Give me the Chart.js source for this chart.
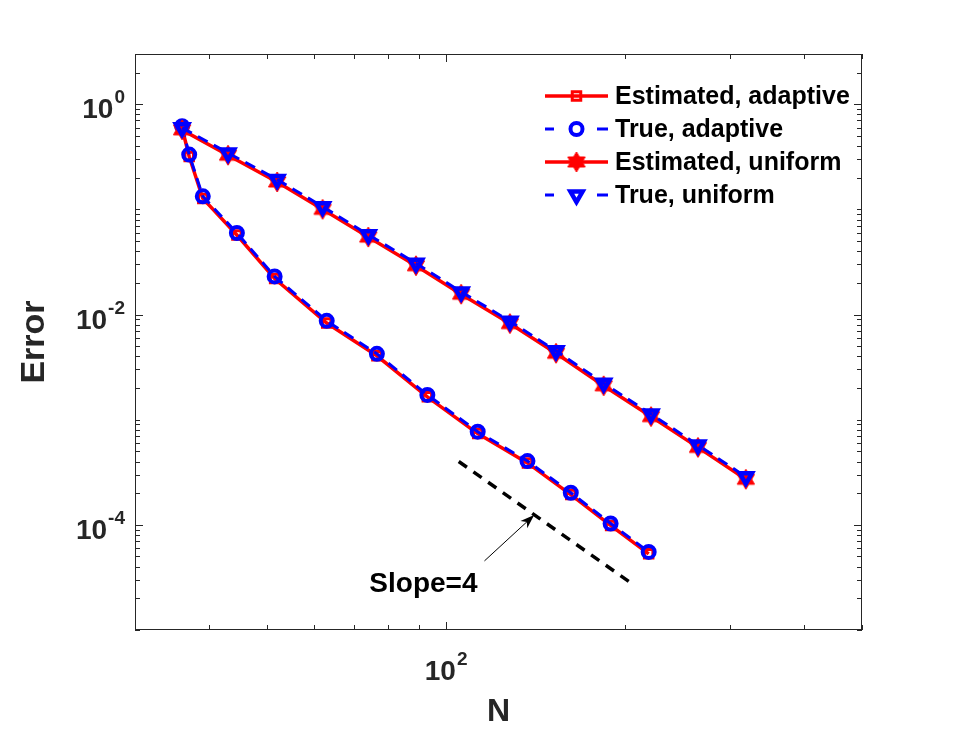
<!DOCTYPE html>
<html>
<head>
<meta charset="utf-8">
<script src="https://cdn.jsdelivr.net/npm/chart.js@4.4.1/dist/chart.umd.min.js"></script>
<style>
html, body { margin: 0; padding: 0; background: #fff; }
canvas { display: block; }
</style>
</head>
<body>
<canvas id="errorChart" width="954" height="742"></canvas>
<script>
// Data
const seriesLabels = ['Estimated, adaptive', 'True, adaptive', 'Estimated, uniform', 'True, uniform'];

const nAdaptive = [36, 37, 39, 44.5, 51.5, 63, 76.5, 93, 113, 137, 162, 189, 219];
const estAdaptive = [0.59, 0.318, 0.127, 0.057, 0.022, 0.0083, 0.00405, 0.00165, 0.000737, 0.000388, 0.000194, 0.0000988, 0.000053];
const trueAdaptive = [0.617, 0.332, 0.133, 0.0596, 0.023, 0.0087, 0.00423, 0.00172, 0.000769, 0.000404, 0.000202, 0.000103, 0.0000553];

const nUniform = [36, 43, 52, 62, 74, 89, 106, 128, 153, 184, 221, 265, 319];
const estUniform = [0.57, 0.327, 0.182, 0.1, 0.0545, 0.0291, 0.0156, 0.0082, 0.00428, 0.0021, 0.00107, 0.000545, 0.000271];
const trueUniform = [0.596, 0.344, 0.192, 0.106, 0.0574, 0.0307, 0.0164, 0.00865, 0.00451, 0.00222, 0.00113, 0.000574, 0.000286];

// reference slope line and the arrow pointing at it (tail, head)
const slopeN = [105, 205];
const slopeErr = [4e-4, 2.77e-5];
const arrowN = [116, 140.6];
const arrowErr = [4.54e-5, 1.237e-4];
const slopeText = 'Slope=4';
const slopeTextAt = [74.3, 2.75e-5];

// axis limits and labelled ticks
const xRange = [30, 500];
const yRange = [1e-5, 3];
const xTickValues = [100];
const xTickExps = ['2'];
const yTickValues = [1, 1e-2, 1e-4];
const yTickExps = ['0', '-2', '-4'];
const xTitle = 'N';
const yTitle = 'Error';

const axisColor = '#262626';
const fontFamily = '"Liberation Sans", Arial, Helvetica, sans-serif';

function toPoints(xs, ys) {
    return xs.map((x, i) => ({ x: x, y: ys[i] }));
}

// filled six-pointed star marker (MATLAB 'h')
function makeHexagram(r, color) {
    const c = document.createElement('canvas');
    const size = Math.ceil(r * 2 + 4);
    c.width = size;
    c.height = size;
    const g = c.getContext('2d');
    g.translate(size / 2, size / 2);
    g.beginPath();
    for (let i = 0; i < 12; i++) {
        const rad = i % 2 === 0 ? r : r * 0.58;
        const a = -Math.PI / 2 + i * Math.PI / 6;
        const px = Math.cos(a) * rad;
        const py = Math.sin(a) * rad;
        if (i === 0) g.moveTo(px, py); else g.lineTo(px, py);
    }
    g.closePath();
    g.fillStyle = color;
    g.fill();
    g.strokeStyle = color;
    g.lineWidth = 1;
    g.stroke();
    return c;
}

function logTicks(min, max) {
    const out = [];
    for (let k = Math.floor(Math.log10(min)); k <= Math.ceil(Math.log10(max)); k++) {
        for (let m = 1; m <= 9; m++) {
            const v = m * Math.pow(10, k);
            if (v >= min * 0.999 && v <= max * 1.001) out.push(v);
        }
    }
    return out;
}

function drawPowerLabel(ctx, base, exp, x, y, align) {
    ctx.font = 'bold 28px ' + fontFamily;
    const baseW = ctx.measureText(base).width;
    ctx.font = 'bold 19px ' + fontFamily;
    const expW = ctx.measureText(exp).width;
    let left = x;
    if (align === 'right') left = x - baseW - expW - 1;
    if (align === 'center') left = x - (baseW + expW + 1) / 2;
    ctx.textAlign = 'left';
    ctx.textBaseline = 'alphabetic';
    ctx.font = 'bold 28px ' + fontFamily;
    ctx.fillText(base, left, y + 14);
    ctx.font = 'bold 19px ' + fontFamily;
    ctx.fillText(exp, left + baseW + 1, y - 1);
}

const matlabAxes = {
    id: 'matlabAxes',
    afterDraw(chart) {
        const { ctx, chartArea: a } = chart;
        const xs = chart.scales.x;
        const ys = chart.scales.y;
        ctx.save();
        ctx.strokeStyle = axisColor;
        ctx.fillStyle = axisColor;
        ctx.lineWidth = 1;

        // box
        ctx.strokeRect(Math.round(a.left) + 0.5, Math.round(a.top) + 0.5,
            Math.round(a.right - a.left) - 1, Math.round(a.bottom - a.top) - 1);

        // inward ticks on all four sides
        ctx.beginPath();
        logTicks(xRange[0], xRange[1]).forEach(v => {
            const px = Math.round(xs.getPixelForValue(v)) + 0.5;
            const len = xTickValues.includes(v) ? 8 : 5;
            ctx.moveTo(px, a.bottom);
            ctx.lineTo(px, a.bottom - len);
            ctx.moveTo(px, a.top);
            ctx.lineTo(px, a.top + len);
        });
        logTicks(yRange[0], yRange[1]).forEach(v => {
            const py = Math.round(ys.getPixelForValue(v)) + 0.5;
            const len = yTickValues.some(t => Math.abs(t - v) / t < 1e-6) ? 8 : 5;
            ctx.moveTo(a.left, py);
            ctx.lineTo(a.left + len, py);
            ctx.moveTo(a.right, py);
            ctx.lineTo(a.right - len, py);
        });
        ctx.stroke();

        // tick labels
        yTickValues.forEach((v, i) => {
            drawPowerLabel(ctx, '10', yTickExps[i], a.left - 10, ys.getPixelForValue(v), 'right');
        });
        xTickValues.forEach((v, i) => {
            drawPowerLabel(ctx, '10', xTickExps[i], xs.getPixelForValue(v), a.bottom + 36, 'center');
        });

        // axis titles
        ctx.font = 'bold 32px ' + fontFamily;
        ctx.textAlign = 'center';
        ctx.textBaseline = 'middle';
        ctx.fillText(xTitle, (a.left + a.right) / 2, a.bottom + 82);
        ctx.font = 'bold 34px ' + fontFamily;
        ctx.save();
        ctx.translate(35, (a.top + a.bottom) / 2);
        ctx.rotate(-Math.PI / 2);
        ctx.fillText(yTitle, 0, 0);
        ctx.restore();

        // arrow + slope annotation
        const tx = xs.getPixelForValue(arrowN[0]), ty = ys.getPixelForValue(arrowErr[0]);
        const hx = xs.getPixelForValue(arrowN[1]), hy = ys.getPixelForValue(arrowErr[1]);
        const ang = Math.atan2(hy - ty, hx - tx);
        ctx.strokeStyle = '#000';
        ctx.fillStyle = '#000';
        ctx.lineWidth = 1;
        ctx.beginPath();
        ctx.moveTo(tx, ty);
        ctx.lineTo(hx - Math.cos(ang) * 8, hy - Math.sin(ang) * 8);
        ctx.stroke();
        ctx.beginPath();
        ctx.moveTo(hx, hy);
        ctx.lineTo(hx - Math.cos(ang) * 14 - Math.sin(ang) * 5, hy - Math.sin(ang) * 14 + Math.cos(ang) * 5);
        ctx.lineTo(hx - Math.cos(ang) * 10, hy - Math.sin(ang) * 10);
        ctx.lineTo(hx - Math.cos(ang) * 14 + Math.sin(ang) * 5, hy - Math.sin(ang) * 14 - Math.cos(ang) * 5);
        ctx.closePath();
        ctx.fill();
        ctx.font = 'bold 28px ' + fontFamily;
        ctx.textAlign = 'left';
        ctx.textBaseline = 'middle';
        ctx.fillText(slopeText, xs.getPixelForValue(slopeTextAt[0]), ys.getPixelForValue(slopeTextAt[1]));

        drawLegend(chart);
        ctx.restore();
    }
};

function drawLegend(chart) {
    const ctx = chart.ctx;
    const lineX0 = 545, lineX1 = 608, textX = 615, rowY = 96, rowGap = 33;
    chart.data.datasets.slice(0, 4).forEach((ds, i) => {
        const yRow = rowY + i * rowGap;
        const mx = (lineX0 + lineX1) / 2;
        ctx.save();
        ctx.strokeStyle = ds.borderColor;
        ctx.lineWidth = ds.borderWidth;
        ctx.beginPath();
        if (ds.borderDash) {
            // MATLAB draws the dashed sample as two short dashes around the marker
            ctx.moveTo(lineX0, yRow);
            ctx.lineTo(lineX0 + 9, yRow);
            ctx.moveTo(lineX1 - 11, yRow);
            ctx.lineTo(lineX1, yRow);
        } else {
            ctx.moveTo(lineX0, yRow);
            ctx.lineTo(lineX1, yRow);
        }
        ctx.stroke();
        ctx.strokeStyle = ds.pointBorderColor;
        ctx.fillStyle = ds.pointBackgroundColor;
        ctx.lineWidth = ds.pointBorderWidth;
        Chart.helpers.drawPoint(ctx, {
            pointStyle: ds.pointStyle,
            rotation: ds.pointRotation || 0,
            radius: ds.pointRadius,
            borderWidth: ds.pointBorderWidth
        }, mx, yRow);
        ctx.fillStyle = '#000';
        ctx.font = 'bold 25px ' + fontFamily;
        ctx.textAlign = 'left';
        ctx.textBaseline = 'middle';
        ctx.fillText(seriesLabels[i], textX, yRow + 1);
        ctx.restore();
    });
}

const red = '#ff0000';
const blue = '#0000ff';

new Chart(document.getElementById('errorChart'), {
    type: 'line',
    data: {
        datasets: [{
            label: seriesLabels[0],
            data: toPoints(nAdaptive, estAdaptive),
            borderColor: red,
            borderWidth: 3.5,
            pointStyle: 'rect',
            pointRadius: 6,
            pointBorderWidth: 3,
            pointBorderColor: red,
            pointBackgroundColor: 'rgba(255,255,255,0)',
            order: 4
        }, {
            label: seriesLabels[1],
            data: toPoints(nAdaptive, trueAdaptive),
            borderColor: blue,
            borderWidth: 3,
            borderDash: [11, 7],
            pointStyle: 'circle',
            pointRadius: 6,
            pointBorderWidth: 4,
            pointBorderColor: blue,
            pointBackgroundColor: 'rgba(255,255,255,0)',
            order: 3
        }, {
            label: seriesLabels[2],
            data: toPoints(nUniform, estUniform),
            borderColor: red,
            borderWidth: 3.5,
            pointStyle: makeHexagram(10, red),
            pointRadius: 10,
            pointBorderWidth: 0,
            pointBorderColor: red,
            pointBackgroundColor: red,
            order: 2
        }, {
            label: seriesLabels[3],
            data: toPoints(nUniform, trueUniform),
            borderColor: blue,
            borderWidth: 3,
            borderDash: [11, 7],
            pointStyle: 'triangle',
            pointRotation: 180,
            pointRadius: 7,
            pointBorderWidth: 4.5,
            pointBorderColor: blue,
            pointBackgroundColor: 'rgba(255,255,255,0)',
            order: 1
        }, {
            label: 'slope',
            data: toPoints(slopeN, slopeErr),
            borderColor: '#000',
            borderWidth: 3.5,
            borderDash: [10, 8],
            pointRadius: 0,
            order: 5
        }]
    },
    options: {
        responsive: false,
        animation: false,
        layout: { padding: { left: 135, top: 54, right: 92, bottom: 112 } },
        elements: { line: { tension: 0 } },
        scales: {
            x: { type: 'logarithmic', min: xRange[0], max: xRange[1], display: false },
            y: { type: 'logarithmic', min: yRange[0], max: yRange[1], display: false }
        },
        plugins: {
            legend: { display: false },
            tooltip: { enabled: false }
        }
    },
    plugins: [matlabAxes]
});
</script>
</body>
</html>
